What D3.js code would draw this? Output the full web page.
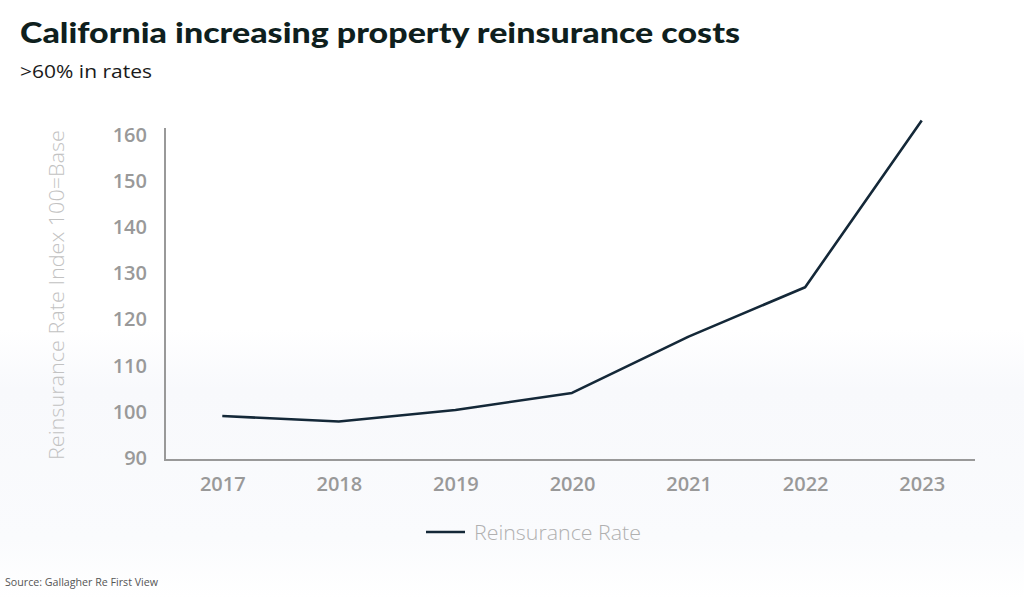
<!DOCTYPE html>
<html><head><meta charset="utf-8">
<script src="https://cdn.jsdelivr.net/npm/d3@7"></script>
<style>body{margin:0;background:#fff}svg{display:block}</style>
</head><body>
<svg id="c" width="1024" height="599"></svg>
<script>
const years = ["2017","2018","2019","2020","2021","2022","2023"];
const rates = [99.1, 97.9, 100.4, 104.1, 116.3, 127.0, 163.1];
const yTicks = [90,100,110,120,130,140,150,160];
const seriesName = "Reinsurance Rate";

const svg = d3.select("#c");
const defs = svg.append("defs");
const g = defs.append("linearGradient").attr("id","bg").attr("x1",0).attr("x2",0).attr("y1",0).attr("y2",1);
g.append("stop").attr("offset","0%").attr("stop-color","#ffffff");
g.append("stop").attr("offset","55%").attr("stop-color","#ffffff");
g.append("stop").attr("offset","65%").attr("stop-color","#f8f9fc");
g.append("stop").attr("offset","90%").attr("stop-color","#fafbfd");
g.append("stop").attr("offset","100%").attr("stop-color","#ffffff");
svg.append("rect").attr("width",1024).attr("height",599).attr("fill","url(#bg)");

svg.append("text").attr("x",20).attr("y",43).text("California increasing property reinsurance costs")
  .attr("font-family","Lato").attr("font-weight",900).attr("font-size",29).attr("fill","#0f1f1e")
  .attr("textLength",720).attr("lengthAdjust","spacingAndGlyphs");
svg.append("text").attr("x",20).attr("y",78).text(">60% in rates")
  .attr("font-family","Open Sans").attr("font-size",18).attr("fill","#1a1a1a")
  .attr("textLength",132).attr("lengthAdjust","spacingAndGlyphs");

const L=165, R=975, B=460;
const x = d3.scalePoint().domain(years).range([164,980]).padding(0.5);
const y = d3.scaleLinear().domain([90,165.4]).range([458,110]);

const xAxis = svg.append("g").attr("transform",`translate(0,${B})`)
  .call(d3.axisBottom(x).tickSize(0).tickPadding(17));
xAxis.select(".domain").remove();
xAxis.selectAll("text").attr("font-family","Open Sans").attr("font-weight",600).attr("font-size",20).attr("fill","#999999");

const yAxis = svg.append("g").attr("transform",`translate(${L},0)`)
  .call(d3.axisLeft(y).tickValues(yTicks).tickSize(0).tickPadding(18));
yAxis.select(".domain").remove();
yAxis.selectAll("text").attr("font-family","Open Sans").attr("font-weight",600).attr("font-size",20).attr("fill","#999999");

svg.append("line").attr("x1",L).attr("x2",L).attr("y1",128).attr("y2",B).attr("stroke","#999").attr("stroke-width",2);
svg.append("line").attr("x1",L-1).attr("x2",R).attr("y1",B).attr("y2",B).attr("stroke","#999").attr("stroke-width",2);

svg.append("text").attr("transform","translate(64,295) rotate(-90)").attr("text-anchor","middle")
  .text("Reinsurance Rate Index 100=Base").attr("font-family","Open Sans").attr("font-weight",300)
  .attr("font-size",21).attr("fill","#c2c2c2")
  .attr("textLength",330).attr("lengthAdjust","spacingAndGlyphs");

const line = d3.line().x((d,i)=>x(years[i])).y(d=>y(d));
svg.append("path").datum(rates).attr("d",line).attr("fill","none").attr("stroke","#142838").attr("stroke-width",2.6).attr("stroke-linejoin","round");

svg.append("line").attr("x1",426).attr("x2",465).attr("y1",532).attr("y2",532).attr("stroke","#142838").attr("stroke-width",2.6);
svg.append("text").attr("x",474).attr("y",540).text(seriesName).attr("font-family","Open Sans").attr("font-weight",300)
  .attr("font-size",20).attr("fill","#b0b0b0")
  .attr("textLength",167).attr("lengthAdjust","spacingAndGlyphs");

svg.append("text").attr("x",5).attr("y",586).text("Source: Gallagher Re First View")
  .attr("font-family","Open Sans").attr("font-size",11).attr("fill","#555")
  .attr("textLength",153).attr("lengthAdjust","spacingAndGlyphs");
</script>
</body></html>
